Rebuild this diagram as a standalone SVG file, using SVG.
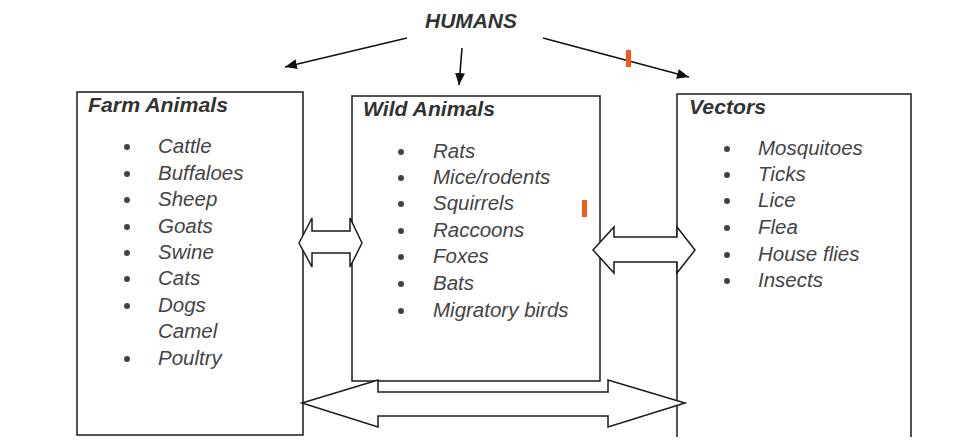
<svg xmlns="http://www.w3.org/2000/svg" width="969" height="446" viewBox="0 0 969 446">
<style>
.box{fill:none;stroke:#1a1a1a;stroke-width:1.5}
.title{font-family:"Liberation Sans",Arial,sans-serif;font-weight:bold;font-style:italic;font-size:20px;fill:#333}
.item{font-family:"Liberation Sans",Arial,sans-serif;font-style:italic;font-size:20.5px;fill:#444}
.dot{fill:#444}
.dbl{fill:#fff;stroke:#1a1a1a;stroke-width:1.5;stroke-linejoin:miter}
.ln{stroke:#111;stroke-width:1.6;fill:none}
.mark{fill:#f05a14}
</style>
<defs>
<marker id="ah" viewBox="0 0 12 10" refX="12" refY="5" markerWidth="12" markerHeight="10" markerUnits="userSpaceOnUse" orient="auto">
<path d="M0,0 L12,5 L0,10 Z" fill="#111"/>
</marker>
</defs>
<rect width="969" height="446" fill="#fff"/>

<g id="humans">
<text class="title" x="471" y="28" text-anchor="middle" textLength="92" lengthAdjust="spacingAndGlyphs">HUMANS</text>
</g>

<g id="farm">
<rect class="box" x="77" y="92" width="226" height="343"/>
<text class="title" x="88" y="112" textLength="140" lengthAdjust="spacingAndGlyphs">Farm Animals</text>
<g class="dot">
<circle cx="127" cy="147" r="3"/><circle cx="127" cy="174" r="3"/><circle cx="127" cy="200" r="3"/>
<circle cx="127" cy="227" r="3"/><circle cx="127" cy="253" r="3"/><circle cx="127" cy="279" r="3"/>
<circle cx="127" cy="306" r="3"/><circle cx="127" cy="359" r="3"/>
</g>
<text class="item" x="158" y="153">Cattle</text>
<text class="item" x="158" y="180">Buffaloes</text>
<text class="item" x="158" y="206">Sheep</text>
<text class="item" x="158" y="233">Goats</text>
<text class="item" x="158" y="259">Swine</text>
<text class="item" x="158" y="285">Cats</text>
<text class="item" x="158" y="312">Dogs</text>
<text class="item" x="158" y="338">Camel</text>
<text class="item" x="158" y="365">Poultry</text>
</g>

<g id="wild">
<rect class="box" x="352" y="96" width="248" height="285"/>
<text class="title" x="363" y="116" textLength="132" lengthAdjust="spacingAndGlyphs">Wild Animals</text>
<g class="dot">
<circle cx="401" cy="152" r="3"/><circle cx="401" cy="178" r="3"/><circle cx="401" cy="204" r="3"/>
<circle cx="401" cy="231" r="3"/><circle cx="401" cy="257" r="3"/><circle cx="401" cy="284" r="3"/>
<circle cx="401" cy="311" r="3"/>
</g>
<text class="item" x="433" y="158">Rats</text>
<text class="item" x="433" y="184">Mice/rodents</text>
<text class="item" x="433" y="210">Squirrels</text>
<text class="item" x="433" y="237">Raccoons</text>
<text class="item" x="433" y="263">Foxes</text>
<text class="item" x="433" y="290">Bats</text>
<text class="item" x="433" y="317">Migratory birds</text>
</g>

<g id="vectors">
<path class="box" d="M677,437 V94 H911 V437"/>
<text class="title" x="689" y="114" textLength="77" lengthAdjust="spacingAndGlyphs">Vectors</text>
<g class="dot">
<circle cx="727" cy="149" r="3"/><circle cx="727" cy="175" r="3"/><circle cx="727" cy="201" r="3"/>
<circle cx="727" cy="228" r="3"/><circle cx="727" cy="255" r="3"/><circle cx="727" cy="281" r="3"/>
</g>
<text class="item" x="758" y="155">Mosquitoes</text>
<text class="item" x="758" y="181">Ticks</text>
<text class="item" x="758" y="207">Lice</text>
<text class="item" x="758" y="234">Flea</text>
<text class="item" x="758" y="261">House flies</text>
<text class="item" x="758" y="287">Insects</text>
</g>

<g id="connectors">
<line class="ln" x1="407" y1="38" x2="285" y2="67" marker-end="url(#ah)"/>
<line class="ln" x1="462" y1="48" x2="459" y2="85" marker-end="url(#ah)"/>
<line class="ln" x1="543" y1="38" x2="689" y2="77" marker-end="url(#ah)"/>
<polygon class="dbl" points="299,243 312,218 312,231 350,231 350,218 362,243 350,267 350,253 312,253 312,267"/>
<polygon class="dbl" points="593,250 614,227 614,237 677,237 677,227 695,250 677,273 677,262 614,262 614,273"/>
<polygon class="dbl" points="302,403 378,380 378,392 608,392 608,380 685,403 608,427 608,416 378,416 378,427"/>
</g>

<rect class="mark" x="626" y="50" width="5" height="17"/>
<rect class="mark" x="582" y="200" width="5" height="17"/>
</svg>
